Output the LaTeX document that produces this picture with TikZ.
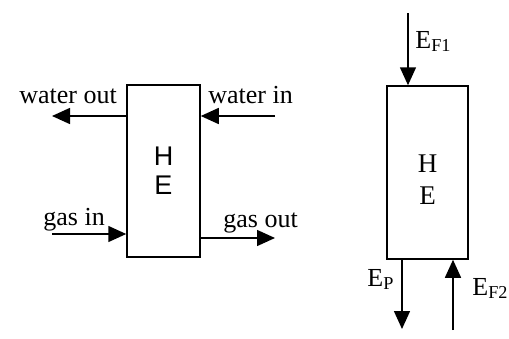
\documentclass[tikz,border=0pt]{standalone}
\usepackage{fontspec}
\setmainfont{Liberation Serif}
\newfontfamily\hesans{Liberation Sans}
\usetikzlibrary{arrows.meta}

\tikzset{
  hebox/.style={draw, line width=0.75pt, inner sep=0pt, align=center},
  flow/.style={line width=0.75pt, -{Triangle[length=9pt,width=8pt]}},
  lbl/.style={anchor=base west, inner sep=0pt, font=\fontsize{13}{15}\selectfont}
}

\begin{document}
\begin{tikzpicture}[x=0.5pt,y=-0.5pt]
	\useasboundingbox (0,0) rectangle (509,338);

	% Waermetauscher links (Wasser / Gas)
	\node[hebox, minimum width=36.5pt, minimum height=86pt,
	      font=\hesans\fontsize{13.5}{14.5}\selectfont] (heL) at (163.5,171) {H\\E};

	% Waermetauscher rechts (Energiestroeme), Beschriftung etwas tiefer
	\node[hebox, minimum width=40.5pt, minimum height=86.5pt] (heR) at (427.5,172.5) {};
	\node[inner sep=0pt, align=center, font=\fontsize{13.5}{16}\selectfont]
	      (heRtxt) at ([yshift=-3.8pt]heR.center) {H\\E};

	% freie Enden der Pfeile
	\coordinate (wout) at (52,116);
	\coordinate (win)  at (275,116);
	\coordinate (gin)  at (52,234);
	\coordinate (gout) at (275,238);
	\coordinate (ef1)  at (408,13);
	\coordinate (ep)   at (402,329);
	\coordinate (ef2)  at (453,330);

	% Stroeme links
	\draw[flow] (heL.west |- wout) -- (wout);
	\draw[flow] (win) -- (heL.east |- win);
	\draw[flow] (gin) -- (heL.west |- gin);
	\draw[flow] (heL.east |- gout) -- (gout);

	% Stroeme rechts
	\draw[flow] (ef1) -- (ef1 |- heR.north);
	\draw[flow] (ep |- heR.south) -- (ep);
	\draw[flow] (ef2) -- (ef2 |- heR.south);

	% Beschriftungen
	\node[lbl] (lwout) at (19,103)  {water out};
	\node[lbl] (lwin)  at (208,103) {water in};
	\node[lbl] (lgin)  at (43,225)  {gas in};
	\node[lbl] (lgout) at (223,227) {gas out};
	\node[lbl] (lef1)  at (415,48)  {E\textsubscript{F1}};
	\node[lbl] (lep)   at (367,286) {E\textsubscript{P}};
	\node[lbl] (lef2)  at (472,295) {E\textsubscript{F2}};
\end{tikzpicture}
\end{document}
